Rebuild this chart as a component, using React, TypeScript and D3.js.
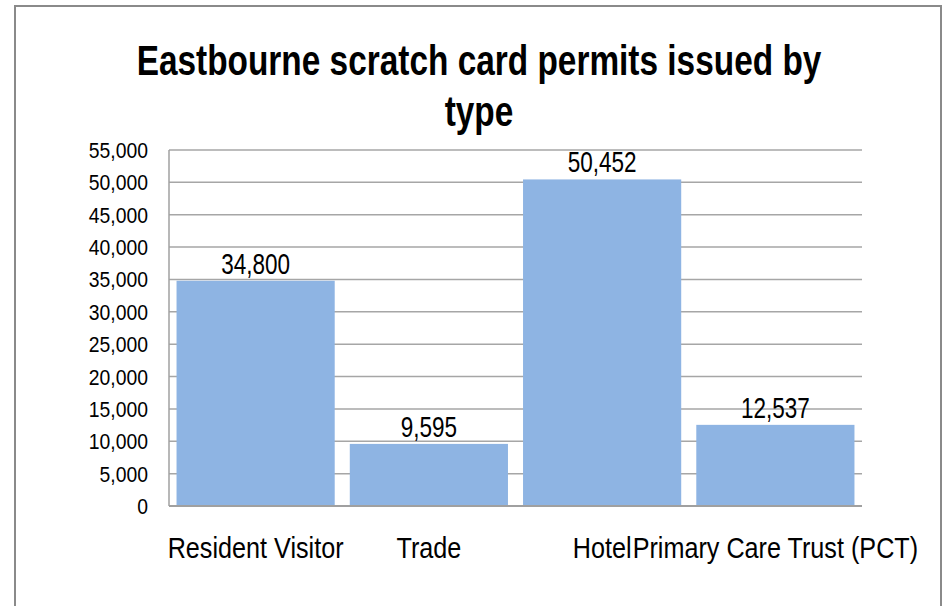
import React from "react";
import * as d3 from "d3";

const categories = ["Resident Visitor", "Trade", "Hotel", "Primary Care Trust (PCT)"];
const values = [34800, 9595, 50452, 12537];
const yTicks = [0, 5000, 10000, 15000, 20000, 25000, 30000, 35000, 40000, 45000, 50000, 55000];
const titleLines = ["Eastbourne scratch card permits issued by", "type"];

const W = 943;
const H = 606;
const FONT = "'Liberation Sans Narrow', 'Arial Narrow', 'Liberation Sans', Arial, sans-serif";

function NText(props: {
  x: number;
  y: number;
  sx: number;
  size: number;
  anchor?: string;
  bold?: boolean;
  children: React.ReactNode;
}) {
  return (
    <text
      transform={`translate(${props.x},${props.y}) scale(${props.sx},1)`}
      textAnchor={props.anchor || "middle"}
      fontSize={props.size}
      fontWeight={props.bold ? "bold" : "normal"}
      fill="#000"
    >
      {props.children}
    </text>
  );
}

export default function App() {
  const plot = { left: 169, right: 862, top: 150, bottom: 506 };
  const x = d3
    .scaleBand<string>()
    .domain(categories)
    .range([plot.left, plot.right])
    .paddingInner(0.087)
    .paddingOuter(0.0435);
  const y = d3.scaleLinear().domain([0, 55000]).range([plot.bottom, plot.top]);
  const fmt = d3.format(",");
  const xc = (c: string) => (x(c) as number) + x.bandwidth() / 2;

  return (
    <svg
      width={W}
      height={H}
      style={{ position: "absolute", left: 0, top: 0, background: "#fff" }}
      fontFamily={FONT}
    >
      <rect x={15} y={6} width={926} height={640} fill="#fff" stroke="#8a8a8a" strokeWidth={2} />
      {titleLines.map((t, i) => (
        <NText key={i} x={479} y={75 + i * 51} sx={0.795} size={42} bold>
          {t}
        </NText>
      ))}
      {yTicks.map((t) => (
        <g key={t}>
          {t > 0 && (
            <line x1={plot.left} x2={plot.right} y1={y(t)} y2={y(t)} stroke="#a6a6a6" strokeWidth={1.5} />
          )}
          <NText x={148} y={y(t) + 8} sx={0.9} size={21.5} anchor="end">
            {fmt(t)}
          </NText>
        </g>
      ))}
      <line x1={plot.left} x2={plot.left} y1={plot.top} y2={plot.bottom} stroke="#a0a0a0" strokeWidth={1.5} />
      {categories.map((c, i) => (
        <rect
          key={c}
          x={x(c)}
          y={y(values[i])}
          width={x.bandwidth()}
          height={plot.bottom - y(values[i])}
          fill="#8EB4E3"
        />
      ))}
      <line x1={plot.left} x2={plot.right} y1={plot.bottom} y2={plot.bottom} stroke="#a0a0a0" strokeWidth={2} />
      {categories.map((c, i) => (
        <NText key={c} x={xc(c)} y={y(values[i]) - 7} sx={0.75} size={30}>
          {fmt(values[i])}
        </NText>
      ))}
      {categories.map((c) => (
        <NText key={c} x={xc(c)} y={558} sx={0.84} size={30}>
          {c}
        </NText>
      ))}
    </svg>
  );
}
